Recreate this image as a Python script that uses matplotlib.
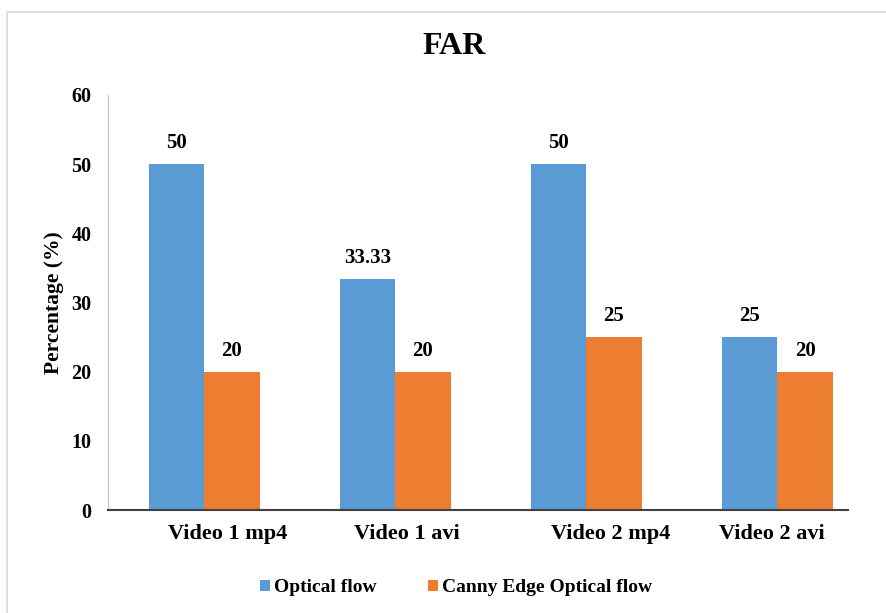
import matplotlib.pyplot as plt
import numpy as np
from matplotlib.patches import Rectangle
from matplotlib.transforms import ScaledTranslation

categories = ["Video 1 mp4", "Video 1 avi", "Video 2 mp4", "Video 2 avi"]
optical_flow = [50, 33.33, 50, 25]
canny_edge = [20, 20, 25, 20]
optical_labels = ["50", "33.33", "50", "25"]
canny_labels = ["20", "20", "25", "20"]

plt.rcParams["font.family"] = ["Liberation Serif", "DejaVu Serif"]
plt.rcParams["font.weight"] = "bold"

fig = plt.figure(figsize=(8.87, 6.13), dpi=100)
fig.patches.append(Rectangle((7 / 887, -0.1), 1.2, (601 + 61) / 613, transform=fig.transFigure,
                             fill=False, edgecolor="#d9d9d9", linewidth=1.2))

ax = fig.add_axes([108 / 887, 103 / 613, 740 / 887, 415 / 613])

x = np.arange(len(categories))
width = 0.29
blue = "#5b9bd5"
orange = "#ed7d31"

bars1 = ax.bar(x - width / 2, optical_flow, width, color=blue, label="Optical flow")
bars2 = ax.bar(x + width / 2, canny_edge, width, color=orange, label="Canny Edge Optical flow")

for bars, labels in [(bars1, optical_labels), (bars2, canny_labels)]:
    for bar, lab in zip(bars, labels):
        ax.annotate(lab, (bar.get_x() + bar.get_width() / 2, bar.get_height()),
                    xytext=(0, 8), textcoords="offset points", ha="center", va="bottom",
                    fontsize=15, fontweight="bold")

ax.set_xlim(-0.503, 3.37)
ax.set_ylim(0, 60)
ax.set_yticks(range(0, 61, 10))
ax.set_xticks(x)
ax.set_xticklabels(categories, fontsize=16, fontweight="bold")
ax.tick_params(axis="y", labelsize=14.5, length=0, pad=12)
ax.tick_params(axis="x", length=0, pad=10)

# Excel places the category labels slightly off the group centres
label_shift = [24, 12, 24, -5]
for lab, dx in zip(ax.get_xticklabels(), label_shift):
    lab.set_transform(lab.get_transform() + ScaledTranslation(dx / 100, 0, fig.dpi_scale_trans))

for side in ["top", "right"]:
    ax.spines[side].set_visible(False)
ax.spines["left"].set_color("#bfbfbf")
ax.spines["left"].set_linewidth(0.8)
ax.spines["bottom"].set_color("#404040")
ax.spines["bottom"].set_linewidth(1.5)

ax.set_ylabel("Percentage (%)", fontsize=15.5, fontweight="bold", labelpad=5)
fig.text(454 / 887, 1 - 47 / 613, "FAR", ha="center", va="center", fontsize=23, fontweight="bold")

ax.legend(loc="center", bbox_to_anchor=(456 / 887, 1 - 588 / 613), bbox_transform=fig.transFigure,
          ncol=2, frameon=False, fontsize=14, handlelength=0.55, handleheight=0.55,
          handletextpad=0.2, columnspacing=2.6)

fig.savefig("out.png", dpi=100)
